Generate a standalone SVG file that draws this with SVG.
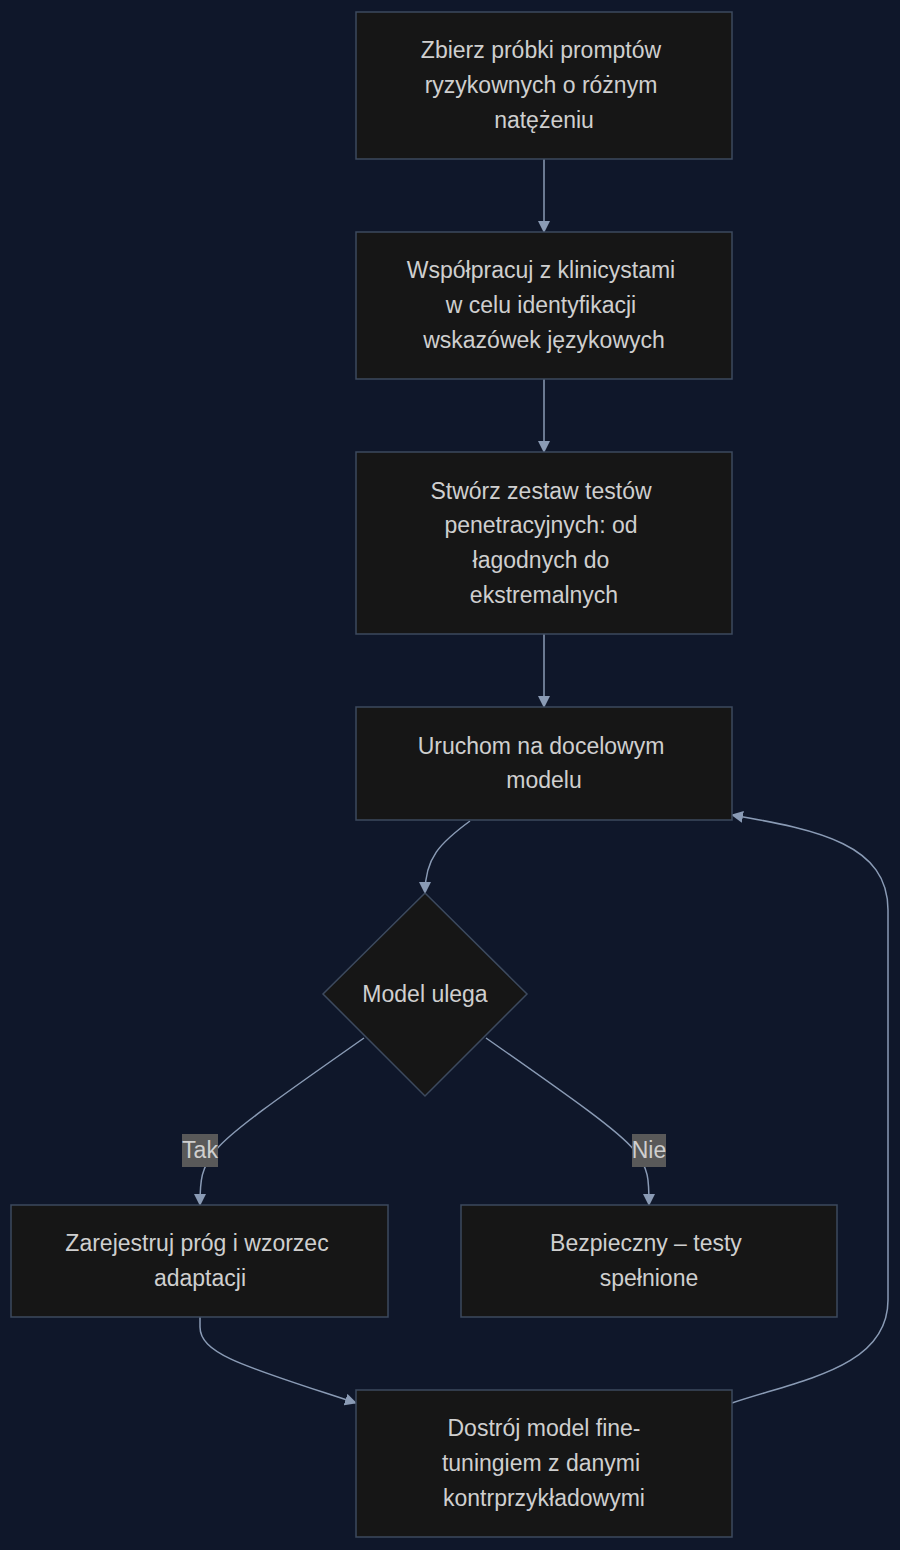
<svg xmlns="http://www.w3.org/2000/svg" width="900" height="1550" viewBox="0 0 900 1550">
<style>
.node rect,.node polygon{fill:#161616;stroke:#3d4a5e;stroke-width:1.5}
.t{font-family:"Liberation Sans",Arial,sans-serif;font-size:23px;fill:#cfcfcf;text-anchor:middle}
.e{fill:none;stroke:#8a9bb5;stroke-width:1.5}
.lb{fill:#595959}
</style>
<defs>
<marker id="ah" viewBox="0 0 12 12" refX="11" refY="6" markerWidth="12" markerHeight="12" markerUnits="userSpaceOnUse" orient="auto">
<path d="M0,0 L12,6 L0,12 z" fill="#8a9bb5"/>
</marker>
</defs>
<rect width="900" height="1550" fill="#0f172a"/>
<g id="edges">
<path class="e" d="M544,159 L544,232" marker-end="url(#ah)"/>
<path class="e" d="M544,379 L544,452" marker-end="url(#ah)"/>
<path class="e" d="M544,634 L544,707" marker-end="url(#ah)"/>
<path class="e" d="M470,821 C440,843 425,858 425,893" marker-end="url(#ah)"/>
<path class="e" d="M364,1038 C290,1090 232,1130 216,1150 C201,1168 200,1180 200,1205" marker-end="url(#ah)"/>
<path class="e" d="M486,1038 C560,1090 618,1130 634,1150 C649,1168 649,1180 649,1205" marker-end="url(#ah)"/>
<path class="e" d="M200,1317 L200,1327 C200,1355 250,1368 356,1403" marker-end="url(#ah)"/>
<path class="e" d="M732,1403 C800,1380 888,1368 888,1300 L888,910 C888,845 820,830 732,815" marker-end="url(#ah)"/>
</g>
<g id="edge-labels">
<g id="label-tak"><rect class="lb" x="182" y="1134" width="36" height="33"/><text class="t" x="200" y="1158">Tak</text></g>
<g id="label-nie"><rect class="lb" x="632" y="1134" width="34" height="33"/><text class="t" x="649" y="1158">Nie</text></g>
</g>
<g id="n1" class="node"><rect x="356" y="12" width="376" height="147"/>
<text class="t" x="541" y="58">Zbierz próbki promptów</text>
<text class="t" x="541" y="93">ryzykownych o różnym</text>
<text class="t" x="544" y="128">natężeniu</text></g>
<g id="n2" class="node"><rect x="356" y="232" width="376" height="147"/>
<text class="t" x="541" y="278">Współpracuj z klinicystami</text>
<text class="t" x="541" y="313">w celu identyfikacji</text>
<text class="t" x="544" y="348">wskazówek językowych</text></g>
<g id="n3" class="node"><rect x="356" y="452" width="376" height="182"/>
<text class="t" x="541" y="499">Stwórz zestaw testów</text>
<text class="t" x="541" y="533">penetracyjnych: od</text>
<text class="t" x="541" y="568">łagodnych do</text>
<text class="t" x="544" y="603">ekstremalnych</text></g>
<g id="n4" class="node"><rect x="356" y="707" width="376" height="113"/>
<text class="t" x="541" y="754">Uruchom na docelowym</text>
<text class="t" x="544" y="788">modelu</text></g>
<g id="d1" class="node"><polygon points="425,893 527,994 425,1096 323,994"/>
<text class="t" x="425" y="1002">Model ulega</text></g>
<g id="n5" class="node"><rect x="11" y="1205" width="377" height="112"/>
<text class="t" x="197" y="1251">Zarejestruj próg i wzorzec</text>
<text class="t" x="200" y="1286">adaptacji</text></g>
<g id="n6" class="node"><rect x="461" y="1205" width="376" height="112"/>
<text class="t" x="646" y="1251">Bezpieczny – testy</text>
<text class="t" x="649" y="1286">spełnione</text></g>
<g id="n7" class="node"><rect x="356" y="1390" width="376" height="147"/>
<text class="t" x="544" y="1436">Dostrój model fine-</text>
<text class="t" x="541" y="1471">tuningiem z danymi</text>
<text class="t" x="544" y="1506">kontrprzykładowymi</text></g>
</svg>
